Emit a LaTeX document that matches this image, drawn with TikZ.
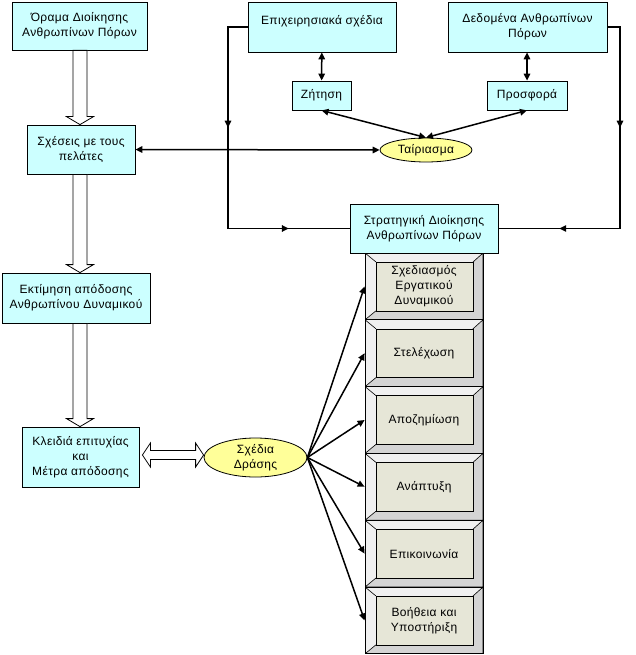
\documentclass[tikz,border=0pt]{standalone}
\usepackage{fontspec}
\setmainfont[LetterSpace=3]{Liberation Sans}
\usetikzlibrary{arrows.meta,calc,shapes.geometric,decorations.markings}

\definecolor{boxcyan}{HTML}{CCFFFF}
\definecolor{ovalyellow}{HTML}{FFFF99}
\definecolor{bevellight}{HTML}{F0F0F0}
\definecolor{beveldark}{HTML}{D4D4D4}
\definecolor{panelbeige}{HTML}{E6E6D7}

% hollow block arrow pointing down, shaft on the x of (spine)
\newcommand\hollowdrop[2]{%
  \draw[hollow] let \p1=(spine |- #1), \p2=(spine |- #2) in
    (\x1-7pt,\y1) -- (\x1-7pt,\y2+8pt) -- (\x1-13.5pt,\y2+8pt) -- (\x1,\y2)
    -- (\x1+13.5pt,\y2+8pt) -- (\x1+7pt,\y2+8pt) -- (\x1+7pt,\y1) -- cycle;}

\begin{document}
\begin{tikzpicture}[
    x=1pt, y=-1pt,
    font=\fontsize{12}{15}\selectfont,
    >={Triangle[length=7pt,width=6.5pt]},
    infobox/.style={draw=black, line width=0.8pt, fill=boxcyan,
                    align=center, inner sep=0pt},
    oval/.style={ellipse, draw=black, line width=0.8pt, fill=ovalyellow,
                 align=center, inner sep=0pt},
    hollow/.style={draw=black, line width=0.8pt, fill=white},
    link/.style={line width=1.5pt, draw=black},
    midarrow/.style={postaction={decorate, decoration={markings,
        mark=at position 0.5 with {\arrow{Triangle[length=7pt,width=6.5pt]}}}}},
    panel/.style={draw=black, line width=0.8pt, fill=bevellight,
                  minimum width=118pt, minimum height=66.8pt, inner sep=0pt,
                  align=center,
                  path picture={
                    \path[fill=beveldark, draw=black, line width=0.6pt]
                      let \p1=(path picture bounding box.north west),
                          \p2=(path picture bounding box.south east) in
                      (\x2,\y1) -- (\x2-10pt,\y1-9pt) -- (\x2-10pt,\y2+9pt)
                      -- (\x1+11pt,\y2+9pt) -- (\x1,\y2) -- (\x2,\y2) -- cycle;
                    \draw[line width=0.6pt]
                      let \p1=(path picture bounding box.north west) in
                      (\x1,\y1) -- (\x1+11pt,\y1-9pt);
                    \path[fill=panelbeige, draw=black, line width=0.6pt]
                      let \p1=(path picture bounding box.north west),
                          \p2=(path picture bounding box.south east) in
                      (\x1+11pt,\y1-9pt) rectangle (\x2-10pt,\y2+9pt);
                  }}
]

\fill[white] (0,0) rectangle (635,655);
\useasboundingbox (0,0) rectangle (635,655);

% left column
\node[infobox, minimum width=135pt, minimum height=48pt] (vision) at (79.5,26)
    {Όραμα Διοίκησης\\Ανθρωπίνων Πόρων};
\node[infobox, minimum width=108pt, minimum height=49pt] (relations) at (81,149.5)
    {Σχέσεις με τους\\πελάτες};
\node[infobox, minimum width=148pt, minimum height=50pt] (appraisal) at (76,298)
    {Εκτίμηση απόδοσης\\Ανθρωπίνου Δυναμικού};
\node[infobox, minimum width=117pt, minimum height=60pt] (keys) at (80.5,457)
    {Κλειδιά επιτυχίας\\και\\Μέτρα απόδοσης};
\coordinate (spine) at (80,0);

% top right
\node[infobox, minimum width=148pt, minimum height=50pt] (bizplans) at (322,27)
    {Επιχειρησιακά σχέδια\\\mbox{}};
\node[infobox, minimum width=159pt, minimum height=50pt] (hrdata) at (527.5,27)
    {Δεδομένα Ανθρωπίνων\\Πόρων};
\node[infobox, minimum width=59pt, minimum height=29pt] (demand) at (321.5,95.5)
    {Ζήτηση};
\node[infobox, minimum width=80pt, minimum height=29pt] (supply) at (527,95.5)
    {Προσφορά};
\node[oval, minimum width=92pt, minimum height=24pt] (matching) at (426,150)
    {Ταίριασμα};

% stack of HR functions
\node[panel] (staffplan) at (424,286.4) {Σχεδιασμός\\Εργατικού\\Δυναμικού};
\node[panel] (staffing) at (424,353.2) {Στελέχωση};
\node[panel] (pay) at (424,420) {Αποζημίωση};
\node[panel] (growth) at (424,486.8) {Ανάπτυξη};
\node[panel] (comms) at (424,553.6) {Επικοινωνία};
\node[panel] (support) at (424,620.4) {Βοήθεια και\\Υποστήριξη};

\node[infobox, minimum width=148pt, minimum height=49pt] (strategy) at (424,228.5)
    {Στρατηγική Διοίκησης\\Ανθρωπίνων Πόρων};
\node[oval, minimum width=103pt, minimum height=39pt] (actions) at (255.5,457.5)
    {Σχέδια\\Δράσης};

% hollow arrows
\hollowdrop{vision.south}{relations.north}
\hollowdrop{relations.south}{appraisal.north}
\hollowdrop{appraisal.south}{keys.north}
\draw[hollow] let \p1=($(keys.east)+(3,-2)$), \p2=($(actions.west)+(0,-2)$) in
    (\x1,\y1) -- (\x1+8pt,\y1+12pt) -- (\x1+8pt,\y1+4.5pt) -- (\x2-8pt,\y1+4.5pt)
    -- (\x2-8pt,\y1+12pt) -- (\x2,\y1) -- (\x2-8pt,\y1-12pt) -- (\x2-8pt,\y1-4.5pt)
    -- (\x1+8pt,\y1-4.5pt) -- (\x1+8pt,\y1-12pt) -- cycle;

% matching
\draw[link, <->] (bizplans) -- (demand);
\draw[link, <->] (hrdata.south -| supply) -- (supply);
\draw[link, <->] (demand.south) -- (matching.north);
\draw[link, <->] (supply.south) -- (matching.north);
\draw[link, <->] (relations.east) -- (matching.west);

% feeds into the strategy
\coordinate (lbot) at (228,228.5);
\coordinate (rbot) at (620,228.5);
\draw[link] (bizplans.west) -| (lbot) -- (strategy.west);
\draw[link, midarrow] (bizplans.west -| lbot) -- (lbot);
\draw[link, midarrow] (lbot) -- (strategy.west);
\draw[link] (hrdata.east) -| (rbot) -- (strategy.east);
\draw[link, midarrow] (hrdata.east -| rbot) -- (rbot);
\draw[link, midarrow] (rbot) -- (strategy.east);

% action plans
\draw[link, ->] (actions.east) -- (staffplan.west);
\draw[link, ->] (actions.east) -- (staffing.west);
\draw[link, ->] (actions.east) -- (pay.west);
\draw[link, ->] (actions.east) -- (growth.west);
\draw[link, ->] (actions.east) -- (comms.west);
\draw[link, ->] (actions.east) -- (support.west);

\end{tikzpicture}
\end{document}
